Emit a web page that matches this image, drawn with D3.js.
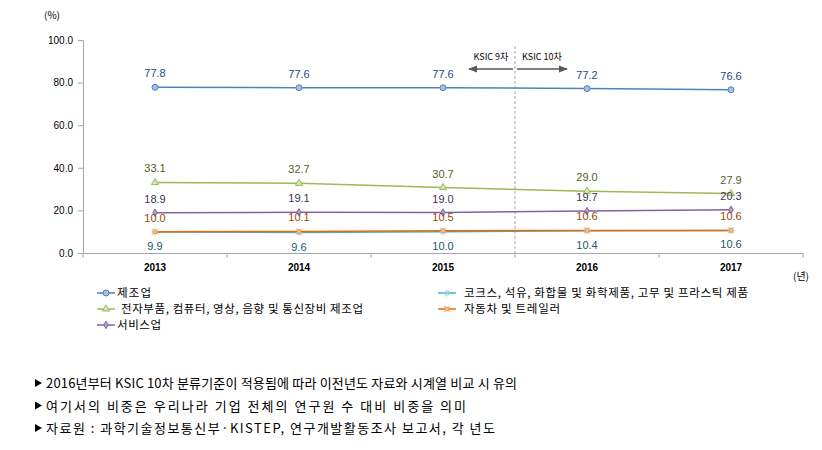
<!DOCTYPE html>
<html><head><meta charset="utf-8">
<script src="https://cdn.jsdelivr.net/npm/d3@7"></script>
<style>
body{margin:0;background:#fff;}
svg{font-family:"Noto Sans CJK KR","DejaVu Sans",sans-serif;}
</style></head><body>
<svg id="c" width="822" height="450"></svg>
<script>
const years = ["2013","2014","2015","2016","2017"];
const yTicks = [0,20,40,60,80,100];
const manufacturing = [77.8,77.6,77.6,77.2,76.6];
const electronics = [33.1,32.7,30.7,29.0,27.9];
const services = [18.9,19.1,19.0,19.7,20.3];
const automobile = [10.0,10.1,10.5,10.6,10.6];
const chemicals = [9.9,9.6,10.0,10.4,10.6];
const seriesNames = ["제조업","전자부품, 컴퓨터, 영상, 음향 및 통신장비 제조업","서비스업","코크스, 석유, 화합물 및 화학제품, 고무 및 프라스틱 제품","자동차 및 트레일러"];
const notes = ["2016년부터 KSIC 10차 분류기준이 적용됨에 따라 이전년도 자료와 시계열 비교 시 유의","여기서의 비중은 우리나라 기업 전체의 연구원 수 대비 비중을 의미","자료원 : 과학기술정보통신부·KISTEP, 연구개발활동조사 보고서, 각 년도"];

const series = [
  {name:seriesNames[0], values:manufacturing, line:"#4f81bd", mark:"circle", mfill:"#a7c0de", lab:"#1f497d", dy:-10},
  {name:seriesNames[1], values:electronics, line:"#9bbb59", mark:"triangle", mfill:"#d7e4bd", lab:"#4f6228", dy:-10},
  {name:seriesNames[2], values:services, line:"#8064a2", mark:"diamond", mfill:"#b3a2c7", lab:"#3f3151", dy:-10},
  {name:seriesNames[3], values:chemicals, line:"#4bacc6", mark:"asterisk", mfill:"#93cddd", lab:"#215868", dy:18},
  {name:seriesNames[4], values:automobile, line:"#e46c0a", mark:"star", mfill:"#fac090", lab:"#984807", dy:-10}
];

const svg = d3.select("#c");
const x = d3.scaleBand().domain(years).range([83,803]);
const y = d3.scaleLinear().domain([0,100]).range([253,40]);

const ya = svg.append("g").attr("transform","translate(83,0)")
  .call(d3.axisLeft(y).tickValues(yTicks).tickFormat(d3.format(".1f")).tickSizeOuter(0).tickSize(5));
ya.select(".domain").attr("stroke","#a6a6a6");
ya.selectAll(".tick line").attr("stroke","#a6a6a6");
ya.selectAll(".tick text").attr("font-size",10).attr("fill","#000").attr("font-family","Liberation Sans, Arial, sans-serif").attr("x",-10);

const xa = svg.append("g").attr("transform","translate(0,253)")
  .call(d3.axisBottom(x).tickSize(0).tickSizeOuter(0));
xa.select(".domain").attr("stroke","#a6a6a6");
xa.selectAll(".tick text").attr("font-size",10).attr("fill","#000").attr("font-family","Liberation Sans, Arial, sans-serif").attr("font-weight","bold").attr("dy","1.5em");
const bounds = years.map(d=>x(d)).concat([x.range()[1]]);
svg.append("g").selectAll("line").data(bounds).join("line")
  .attr("x1",d=>d).attr("x2",d=>d).attr("y1",253).attr("y2",258).attr("stroke","#a6a6a6");

svg.append("text").attr("x",52).attr("y",19).attr("font-size",10).attr("text-anchor","middle").text("(%)");
svg.append("text").attr("x",801).attr("y",280).attr("font-size",10).attr("text-anchor","middle").text("(년)");

const divX = x("2016");
svg.append("line").attr("x1",divX).attr("x2",divX).attr("y1",46).attr("y2",253)
  .attr("stroke","#a6a6a6").attr("stroke-dasharray","3,2");
const defs = svg.append("defs");
defs.append("marker").attr("id","ah").attr("viewBox","0 0 10 10").attr("refX",9).attr("refY",5)
  .attr("markerWidth",6).attr("markerHeight",6).attr("orient","auto-start-reverse")
  .append("path").attr("d","M0,1 L10,5 L0,9 z").attr("fill","#595959");
svg.append("line").attr("x1",divX-46).attr("x2",divX-2).attr("y1",69).attr("y2",69)
  .attr("stroke","#595959").attr("stroke-width",1.5).attr("marker-start","url(#ah)");
svg.append("line").attr("x1",divX+2).attr("x2",divX+52).attr("y1",69).attr("y2",69)
  .attr("stroke","#595959").attr("stroke-width",1.5).attr("marker-end","url(#ah)");
svg.append("text").attr("x",divX-24).attr("y",60).attr("font-size",9).attr("text-anchor","middle").text("KSIC 9차");
svg.append("text").attr("x",divX+27).attr("y",60).attr("font-size",9).attr("text-anchor","middle").text("KSIC 10차");

const cx = d=>x(d)+x.bandwidth()/2;
function drawMarker(g, type, fill, stroke){
  if(type==="circle") g.append("circle").attr("r",3).attr("fill",fill).attr("stroke",stroke);
  else if(type==="triangle") g.append("path").attr("d",d3.symbol(d3.symbolTriangle,22)()).attr("fill",fill).attr("stroke",stroke);
  else if(type==="diamond") g.append("path").attr("d",d3.symbol(d3.symbolDiamond,16)()).attr("fill",fill).attr("stroke",stroke);
  else if(type==="asterisk") g.append("path").attr("d","M-3.5,0H3.5M0,-3.5V3.5M-2.5,-2.5L2.5,2.5M-2.5,2.5L2.5,-2.5").attr("stroke",fill).attr("stroke-width",1);
  else if(type==="star"){ g.append("path").attr("d","M-3,-3L3,3M-3,3L3,-3").attr("stroke",fill).attr("stroke-width",1.2); g.append("circle").attr("r",2).attr("fill",fill).attr("stroke",stroke).attr("stroke-width",0.5);}
}

const line = d3.line().x((d,i)=>cx(years[i])).y(d=>y(d));
series.forEach(s=>{
  svg.append("path").datum(s.values).attr("d",line).attr("fill","none").attr("stroke",s.line).attr("stroke-width",1.5);
});
series.forEach(s=>{
  s.values.forEach((v,i)=>{
    const g = svg.append("g").attr("transform",`translate(${cx(years[i])},${y(v)})`);
    drawMarker(g, s.mark, s.mfill, s.line);
    svg.append("text").attr("x",cx(years[i])).attr("y",y(v)+s.dy).attr("font-size",11)
      .attr("text-anchor","middle").attr("fill",s.lab).attr("font-family","Liberation Sans, Arial, sans-serif").text(v.toFixed(1));
  });
});

// legend
const legPos = [[97,293],[97,309],[97,325],[438,293],[438,309]];
const legTextX = [117,121,117,464,464];
const legLen = [34,242,44,284,96];
legPos.forEach(([lx,ly],si)=>{
  const s = series[si];
  svg.append("line").attr("x1",lx).attr("x2",lx+18).attr("y1",ly).attr("y2",ly).attr("stroke",s.line).attr("stroke-width",1.5);
  const g = svg.append("g").attr("transform",`translate(${lx+9},${ly})`);
  drawMarker(g, s.mark, s.mfill, s.line);
  svg.append("text").attr("x",legTextX[si]).attr("y",ly+4).attr("font-size",11.5).attr("fill","#000")
    .attr("textLength",legLen[si]).attr("lengthAdjust","spacing").text(s.name);
});

// notes
const noteLen = [471,420,449];
notes.forEach((t,i)=>{
  const ny = 388 + i*22.5;
  svg.append("path").attr("d",`M35,${ny-9}L42,${ny-5}L35,${ny-1}Z`).attr("fill","#000");
  svg.append("text").attr("x",46).attr("y",ny).attr("font-size",13).attr("fill","#000")
    .attr("textLength",noteLen[i]).attr("lengthAdjust","spacing").text(t);
});
</script>
</body></html>
